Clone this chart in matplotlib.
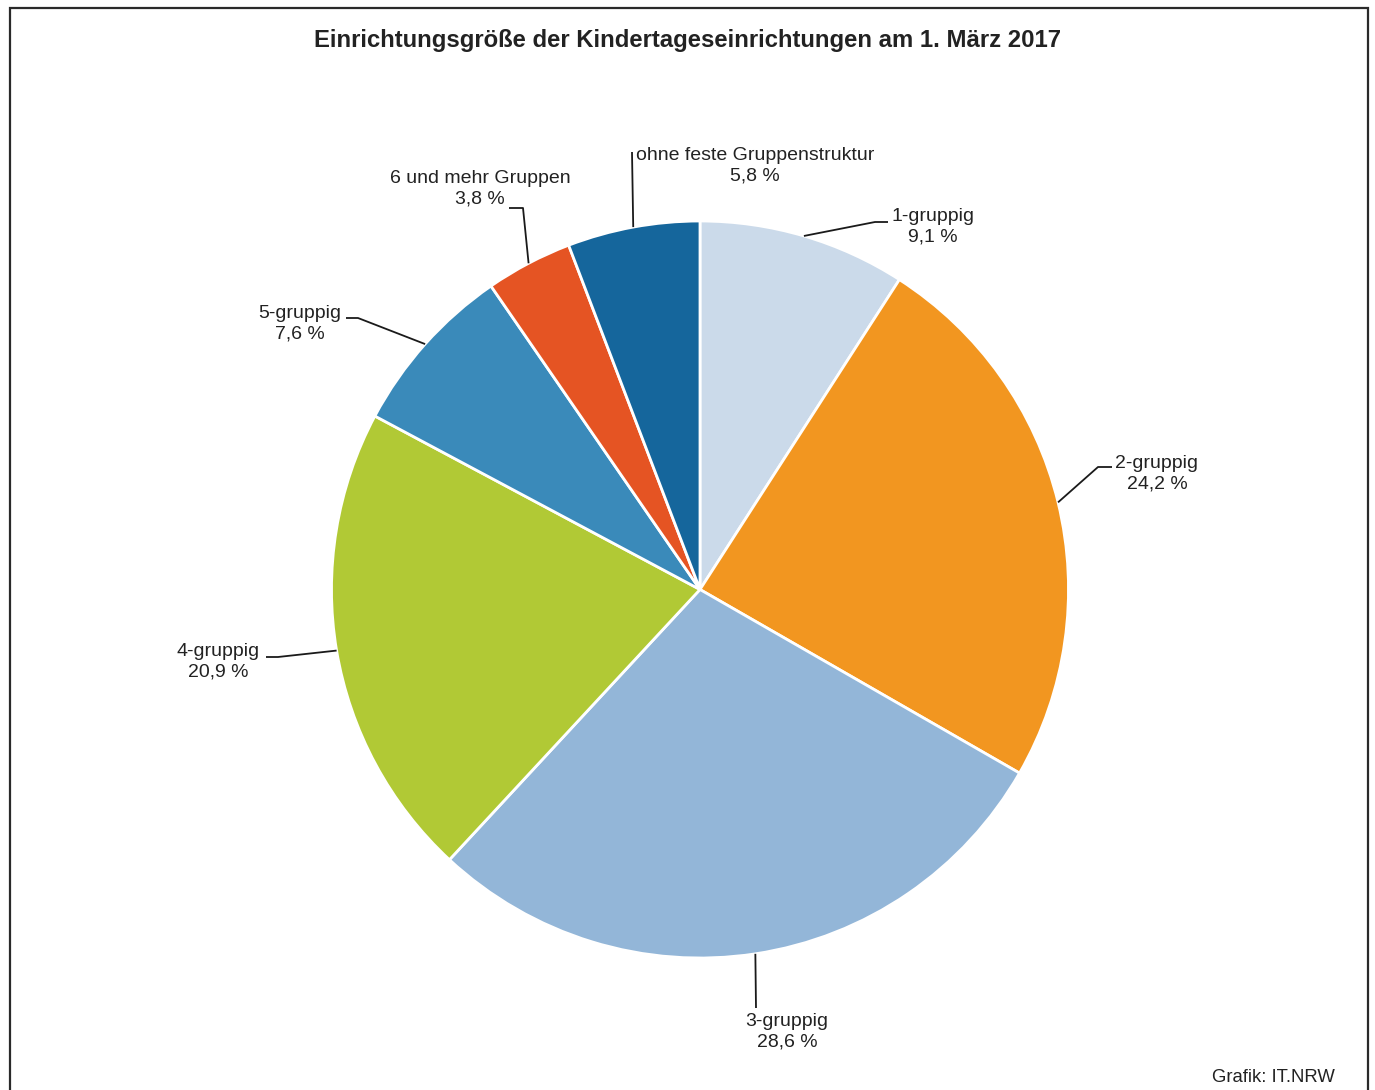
import numpy as np
import matplotlib.pyplot as plt
from matplotlib.patches import Rectangle

plt.rcParams['font.family'] = ['Liberation Sans', 'DejaVu Sans']

# data
categories = ['1-gruppig', '2-gruppig', '3-gruppig', '4-gruppig', '5-gruppig',
              '6 und mehr Gruppen', 'ohne feste Gruppenstruktur']
shares = [9.1, 24.2, 28.6, 20.9, 7.6, 3.8, 5.8]
colors = ['#CBDAEA', '#F29620', '#93B6D8', '#B1C935', '#3A8ABA', '#E55423', '#15669C']

W, H = 1375, 1090
def Y(y):  # pixel row -> data y
    return H - y

# label layout in pixels: text centre, elbow, line end
label_pos = [(933, 227), (1157, 474), (787, 1032), (218, 662),
             (300, 324), (480, 189), (755, 166)]
elbows = [(875, 222), (1098, 467), (756, 1008), (278, 657),
          (358, 318), (523, 208), (632, 152)]
ends = [(888, 222), (1112, 467), (756, 1008), (266, 657),
        (346, 318), (509, 208), (632, 152)]

fig = plt.figure(figsize=(13.75, 10.9), dpi=100)
ax = fig.add_axes([0, 0, 1, 1])

cx, cy, r = 700, Y(589.5), 368.5
wedges, _ = ax.pie(shares, colors=colors, startangle=90, counterclock=False,
                   center=(cx, cy), radius=r, frame=True,
                   wedgeprops=dict(edgecolor='white', linewidth=2.0))
ax.set_xlim(0, W)
ax.set_ylim(0, H)
ax.set_aspect('equal')
ax.axis('off')

txt_col = '#222222'
for w, cat, val, lp, el, en in zip(wedges, categories, shares, label_pos, elbows, ends):
    mid = np.deg2rad((w.theta1 + w.theta2) / 2)
    sx, sy = cx + r * np.cos(mid), cy + r * np.sin(mid)
    ax.plot([sx, el[0], en[0]], [sy, Y(el[1]), Y(en[1])], color='#1a1a1a', lw=1.3,
            solid_capstyle='butt', zorder=3)
    lab = f'{cat}\n{val:.1f} %'.replace('.', ',')
    ax.text(lp[0], Y(lp[1]), lab, ha='center', va='center', multialignment='center',
            fontsize=14, color=txt_col, linespacing=1.27)

ax.text(688, Y(41), 'Einrichtungsgröße der Kindertageseinrichtungen am 1. März 2017',
        ha='center', va='center', fontsize=17.2, fontweight='bold', color=txt_col)
ax.text(1335, Y(1077), 'Grafik: IT.NRW', ha='right', va='center', fontsize=13.3, color=txt_col)

# frame (bottom edge lies outside the picture)
ax.add_patch(Rectangle((10, Y(1100)), 1358, 1092, fill=False, edgecolor='#2a2a2a',
                       lw=1.6, clip_on=False))

fig.savefig('out.png', dpi=100)
